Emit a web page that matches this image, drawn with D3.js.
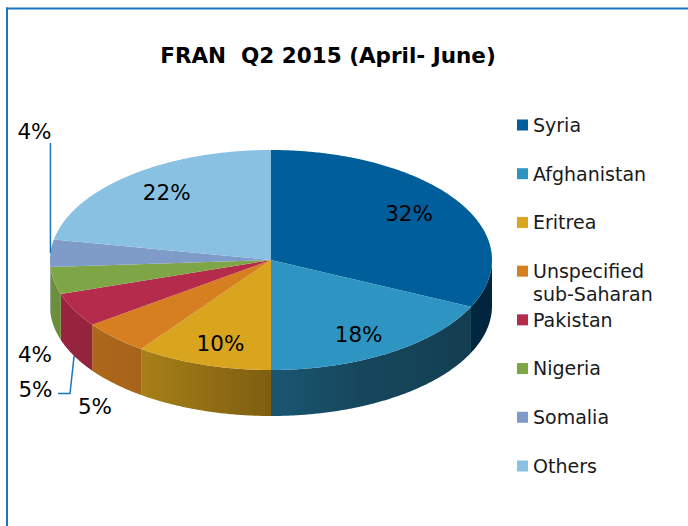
<!DOCTYPE html>
<html>
<head>
<meta charset="utf-8">
<title>FRAN Q2 2015</title>
<script src="https://cdn.jsdelivr.net/npm/d3@7/dist/d3.min.js"></script>
<style>
  body { margin: 0; background: #fff; }
  svg { display: block; font-family: "DejaVu Sans", Verdana, sans-serif; }
</style>
</head>
<body>
<svg id="chart" width="688" height="526"></svg>
<script>
// data
const categories = ["Syria", "Afghanistan", "Eritrea", "Unspecified sub-Saharan", "Pakistan", "Nigeria", "Somalia", "Others"];
const shares = [32, 18, 10, 5, 5, 4, 4, 22];
const colors = ["#005f9b", "#2e95c3", "#d9a41e", "#d57f21", "#b52b4c", "#7fa646", "#7f9bc7", "#89c1e2"];
const title = "FRAN  Q2 2015 (April- June)";

// where the small slices get their labels (moved outside by hand, like in Excel)
const outsideLabels = {
  "Somalia": { x: 34.5, y: 131, leader: "top", bend: [[null, 143]] },
  "Nigeria": { x: 35, y: 354 },
  "Pakistan": { x: 35.5, y: 389, leader: "bottom", bend: [[58, 393.5], [70, 393.5]] },
  "Unspecified sub-Saharan": { x: 95, y: 406 }
};

const svg = d3.select("#chart");
const cx = 271, cy = 260, rx = 221, ry = 110, depth = 46;
const deg = Math.PI / 180;

// frame
svg.append("line").attr("x1", 7).attr("x2", 7).attr("y1", 7.5).attr("y2", 526)
  .attr("stroke", "#1a75bc").attr("stroke-width", 2);
svg.append("line").attr("x1", 6).attr("x2", 688).attr("y1", 8.5).attr("y2", 8.5)
  .attr("stroke", "#1a75bc").attr("stroke-width", 2);

svg.append("text")
  .attr("x", 328).attr("y", 63)
  .attr("text-anchor", "middle")
  .attr("font-weight", "bold")
  .attr("font-size", "21.5px")
  .style("white-space", "pre")
  .attr("fill", "#000")
  .text(title);

const data = categories.map((c, i) => ({ name: c, value: shares[i], color: colors[i] }));
const arcs = d3.pie().sort(null).value(d => d.value)(data);

const px = a => cx + rx * Math.sin(a);
const py = a => cy - ry * Math.cos(a);

// side brightness by angle (lit from the front left)
const shade = d3.scaleLinear()
  .domain([90, 155, 180, 216, 270].map(d => d * deg))
  .range([0.38, 0.47, 0.58, 0.78, 0.88])
  .clamp(true);
const darker = (c, s) => { const r = d3.rgb(c); return d3.rgb(r.r * s, r.g * s, r.b * s).formatHex(); };

const line = d3.line();
function arcPoints(a0, a1, dy) {
  const n = Math.max(2, Math.ceil((a1 - a0) / (0.5 * deg)));
  return d3.range(n + 1).map(i => {
    const a = a0 + (a1 - a0) * i / n;
    return [px(a), py(a) + dy];
  });
}

const defs = svg.append("defs");
const sides = svg.append("g");
const tops = svg.append("g");

// outer walls, only the front half shows
arcs.forEach((d, i) => {
  const lo = Math.max(d.startAngle, 90 * deg), hi = Math.min(d.endAngle, 270 * deg);
  if (hi <= lo) return;
  const xa = px(hi), xb = px(lo);
  const grad = defs.append("linearGradient")
    .attr("id", "side" + i)
    .attr("gradientUnits", "userSpaceOnUse")
    .attr("x1", xa).attr("x2", xb).attr("y1", 0).attr("y2", 0);
  d3.range(9).forEach(k => {
    const a = hi - (hi - lo) * k / 8;
    grad.append("stop")
      .attr("offset", xb > xa ? (px(a) - xa) / (xb - xa) : 0)
      .attr("stop-color", darker(d.data.color, shade(a)));
  });
  const pts = arcPoints(lo, hi, 0).concat(arcPoints(lo, hi, depth).reverse());
  sides.append("path")
    .attr("d", line(pts) + "Z")
    .attr("fill", `url(#side${i})`);
});

// top faces
tops.selectAll("path")
  .data(arcs)
  .join("path")
  .attr("d", d => line([[cx, cy]].concat(arcPoints(d.startAngle, d.endAngle, 0))) + "Z")
  .attr("fill", d => d.data.color);

// labels
const labels = svg.append("g")
  .attr("font-size", "21.5px")
  .attr("fill", "#000")
  .attr("text-anchor", "middle");

arcs.forEach(d => {
  const mid = (d.startAngle + d.endAngle) / 2;
  const txt = d.data.value + "%";
  const o = outsideLabels[d.data.name];
  if (!o) {
    labels.append("text")
      .attr("x", cx + rx * 0.74 * Math.sin(mid))
      .attr("y", cy - ry * 0.80 * Math.cos(mid))
      .attr("dy", "0.36em")
      .text(txt);
    return;
  }
  labels.append("text").attr("x", o.x).attr("y", o.y).attr("dy", "0.36em").text(txt);
  if (o.leader) {
    const anchor = [px(mid), py(mid) + (o.leader === "bottom" ? depth : 0)];
    const pts = o.bend.map(p => [p[0] === null ? anchor[0] : p[0], p[1]]).concat([anchor]);
    svg.append("path")
      .attr("d", line(pts))
      .attr("fill", "none")
      .attr("stroke", "#1a75bc")
      .attr("stroke-width", 1.5);
  }
});

// legend
const legend = svg.append("g")
  .attr("font-size", "19px")
  .attr("fill", "#1a1a1a");

const rowY = d3.scaleLinear().domain([0, categories.length - 1]).range([125, 466]);

data.forEach((d, i) => {
  const y = rowY(i);
  legend.append("rect")
    .attr("x", 517).attr("y", y - 5.5)
    .attr("width", 11).attr("height", 11)
    .attr("fill", d.color);
  const t = legend.append("text").attr("x", 533).attr("y", y).attr("dy", "0.36em");
  d.name.split(" ").forEach((w, j) => {
    t.append("tspan").attr("x", 533).attr("dy", j === 0 ? "0.36em" : "23px").text(w);
  });
  t.attr("dy", null);
});
</script>
</body>
</html>
